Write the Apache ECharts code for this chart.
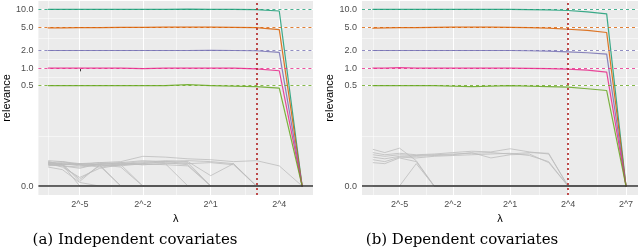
<!DOCTYPE html>
<html><head><meta charset="utf-8">
<script src="https://cdn.jsdelivr.net/npm/echarts@6/dist/echarts.min.js"></script>
<style>html,body{margin:0;padding:0;background:#fff}#c{width:640px;height:249px;pointer-events:none}</style>
</head><body><div id="c"></div>
<script>
// ---------------- data ----------------
const lambdasLeft  = [0.0078125,0.015625,0.03125,0.0625,0.125,0.25,0.5,1,2,4,8,16,32];
const lambdasRight = [0.0078125,0.015625,0.03125,0.0625,0.125,0.25,0.5,1,2,4,8,16,32,64,128];
const trueValues = [10, 5, 2, 1, 0.5];
const seriesColors = ['#1B9E77','#D95F02','#7570B3','#E7298A','#66A61E'];
const yTickValues = [0, 0.5, 1, 2, 5, 10];
const yTickLabels = ['0.0','0.5','1.0','2.0','5.0','10.0'];
const xTickLambdasLeft  = [0.03125, 0.25, 2, 16];
const xTickLabelsLeft   = ['2^-5','2^-2','2^1','2^4'];
const xTickLambdasRight = [0.03125, 0.25, 2, 16, 128];
const xTickLabelsRight  = ['2^-5','2^-2','2^1','2^4','2^7'];
const selectedLambdaLeft = 8;
const selectedLambdaRight = 16;

const leftTeal   = [10.0,10.0,10.0,10.0,10.0,10.0,10.0,10.1,10.0,10.0,9.9,9.4,0];
const leftOrange = [4.85,4.85,4.9,4.9,4.95,4.95,5.0,5.0,5.0,4.95,4.9,4.55,0];
const leftPurple = [2.0,2.0,2.0,2.0,2.0,2.0,2.0,2.0,2.02,2.0,1.98,1.86,0];
const leftPink   = [1.0,1.0,1.0,1.0,1.0,0.98,1.0,1.0,1.0,1.0,0.97,0.9,0];
const leftGreen  = [0.5,0.5,0.5,0.5,0.5,0.5,0.5,0.52,0.5,0.49,0.48,0.45,0];
const rightTeal   = [10,10,10,10,10,10,10,10,10,9.9,9.8,9.6,9.1,8.4,0];
const rightOrange = [4.8,4.85,4.9,4.9,4.95,5,5,5,4.95,4.9,4.8,4.6,4.4,4.05,0];
const rightPurple = [2,2,2,2,2,2,2,2,2,1.98,1.95,1.9,1.83,1.73,0];
const rightPink   = [1,1,1.02,1,1,1,1,1,1,0.99,0.98,0.96,0.92,0.85,0];
const rightGreen  = [0.5,0.5,0.5,0.5,0.5,0.49,0.48,0.49,0.5,0.49,0.48,0.47,0.44,0.41,0];

const greyLeft = [
 [0.014,0.015,0.013,0.015,0.016,0.022,0.021,0.019,0.018,0.016,0.017,0.012,0],
 [0.017,0.016,0.014,0.013,0.015,0.017,0.016,0.017,0.016,0.014,0,0,0],
 [0.013,0.014,0.012,0.014,0.013,0.015,0.017,0.016,0.005,0.014,0,0,0],
 [0.016,0.013,0.014,0.015,0.014,0.016,0.015,0.013,0,0,0,0,0],
 [0.015,0.014,0.013,0.012,0.014,0.013,0.014,0,0,0,0,0,0],
 [0.015,0.013,0.014,0.013,0.011,0,0,0,0,0,0,0,0],
 [0.013,0.012,0.011,0.013,0,0,0,0,0,0,0,0,0],
 [0.012,0.014,0.002,0.013,0.012,0.014,0.013,0.012,0,0,0,0,0],
 [0.014,0.011,0.004,0.010,0.013,0,0,0,0,0,0,0,0],
 [0.016,0.013,0,0,0,0,0,0,0,0,0,0,0],
 [0.011,0.009,0.0015,0,0,0,0,0,0,0,0,0,0],
 [0.013,0.012,0.010,0.014,0.015,0.013,0.014,0.015,0,0,0,0,0],
 [0.015,0.016,0.013,0.011,0.013,0.014,0.016,0.014,0.015,0.013,0,0,0],
 [0.014,0.013,0.003,0.012,0,0,0,0,0,0,0,0,0]
];
const greyRight = [
 [0.032,0.027,0.034,0.017,0,0,0,0,0,0,0,0,0,0,0],
 [0,0,0,0.014,0,0,0,0,0,0,0,0,0,0,0],
 [0.027,0.024,0.026,0.024,0.025,0.027,0.029,0.028,0.033,0.028,0.025,0,0,0,0],
 [0.024,0.022,0.024,0.023,0.024,0.025,0.026,0.027,0.025,0.027,0.026,0,0,0,0],
 [0.021,0.019,0.022,0.022,0.023,0.024,0.027,0.020,0.024,0.025,0.015,0,0,0,0],
 [0.018,0.016,0.021,0.020,0.022,0.023,0.024,0.025,0.026,0.023,0.016,0,0,0,0],
 [0.015,0.014,0.020,0.016,0,0,0,0,0,0,0,0,0,0,0]
];

const CX = 0.0068, CY = 0.01;
const U = l => Math.log2(l + CX);
const T = v => Math.log2(v + CY);

const SANS = '"Liberation Sans", Arial, sans-serif';
const grids = [
  {left:37, top:1, width:276, height:194, xmin:-6.525, xmax:5.475},
  {left:362, top:1, width:276, height:194, xmin:-6.657, xmax:7.621}
];
const YMIN = -7.15, YMAX = 3.80;

function nearestLabel(v, vals, labels){
  let bi = 0, bd = Infinity;
  vals.forEach((x,i)=>{ const d = Math.abs(x - v); if (d < bd){bd=d; bi=i;} });
  return labels[bi];
}

const option = {
  animation:false,
  backgroundColor:'#ffffff',
  tooltip:{show:false},
  grid: grids.map(g=>({left:g.left, top:g.top, width:g.width, height:g.height,
        show:true, backgroundColor:'#EBEBEB', borderWidth:0, containLabel:false})),
  xAxis: [], yAxis: [], series: [],
  graphic: [
    {type:'text', x:135, y:240, silent:true, style:{text:'(a) Independent covariates', align:'center', verticalAlign:'middle', fontSize:15, fontFamily:'"DejaVu Serif", serif', fill:'#000'}},
    {type:'text', x:462, y:240, silent:true, style:{text:'(b) Dependent covariates', align:'center', verticalAlign:'middle', fontSize:15, fontFamily:'"DejaVu Serif", serif', fill:'#000'}}
  ]
};

const panels = [
  {lambdas:lambdasLeft, colored:[leftTeal,leftOrange,leftPurple,leftPink,leftGreen], greys:greyLeft,
   sel:selectedLambdaLeft, xt:xTickLambdasLeft, xl:xTickLabelsLeft},
  {lambdas:lambdasRight, colored:[rightTeal,rightOrange,rightPurple,rightPink,rightGreen], greys:greyRight,
   sel:selectedLambdaRight, xt:xTickLambdasRight, xl:xTickLabelsRight}
];

function ml(z, data){
  return {symbol:['none','none'], silent:true, animation:false, label:{show:false}, emphasis:{disabled:true}, z:z, data:data};
}

panels.forEach((p, i) => {
  const g = grids[i];
  const xtU = p.xt.map(U);
  const ytT = yTickValues.map(T);
  option.xAxis.push({
    gridIndex:i, type:'value', min:g.xmin, max:g.xmax,
    axisLine:{show:false}, axisPointer:{show:false},
    axisTick:{show:true, length:3, lineStyle:{color:'#333', width:1}, customValues:xtU},
    axisLabel:{customValues:xtU, formatter:v=>nearestLabel(v, xtU, p.xl), color:'#4D4D4D', fontSize:9, margin:5, fontFamily:SANS},
    splitLine:{show:false},
    name:'λ', nameLocation:'middle', nameGap:15, nameTextStyle:{color:'#000', fontSize:11, fontFamily:SANS}
  });
  option.yAxis.push({
    gridIndex:i, type:'value', min:YMIN, max:YMAX,
    axisLine:{show:false}, axisPointer:{show:false},
    axisTick:{show:true, length:3, lineStyle:{color:'#333', width:1}, customValues:ytT},
    axisLabel:{customValues:ytT, formatter:v=>nearestLabel(v, ytT, yTickLabels), color:'#4D4D4D', fontSize:9, margin:5, fontFamily:SANS},
    splitLine:{show:false},
    name:'relevance', nameLocation:'middle', nameRotate:90, nameGap:25, nameTextStyle:{color:'#000', fontSize:11, fontFamily:SANS}
  });

  const gl = [];
  ytT.forEach(t=>gl.push({yAxis:t, lineStyle:{color:'#fff', width:1.1, type:'solid'}}));
  for (let k=0;k<ytT.length-1;k++) gl.push({yAxis:(ytT[k]+ytT[k+1])/2, lineStyle:{color:'#fff', width:0.5, type:'solid'}});
  xtU.forEach(u=>gl.push({xAxis:u, lineStyle:{color:'#fff', width:1.1, type:'solid'}}));
  const step = xtU[1]-xtU[0];
  const minors = [xtU[0]-step/2];
  for (let k=0;k<xtU.length-1;k++) minors.push((xtU[k]+xtU[k+1])/2);
  minors.push(xtU[xtU.length-1] + (xtU[xtU.length-1]-xtU[xtU.length-2])/2);
  minors.filter(u=>u>g.xmin+0.05 && u<g.xmax-0.05).forEach(u=>gl.push({xAxis:u, lineStyle:{color:'#fff', width:0.5, type:'solid'}}));
  option.series.push({type:'line', xAxisIndex:i, yAxisIndex:i, data:[], z:1, silent:true, markLine:ml(1, gl)});

  p.greys.forEach(arr=>{
    option.series.push({type:'line', xAxisIndex:i, yAxisIndex:i, z:2, silent:true, symbol:'none', showSymbol:false,
      emphasis:{disabled:true}, lineStyle:{color:'#BDBDBD', width:0.8, join:'round'},
      data:p.lambdas.map((l,j)=>[U(l), T(arr[j])])});
  });
  p.colored.forEach((arr,c)=>{
    option.series.push({type:'line', xAxisIndex:i, yAxisIndex:i, z:3, silent:true, symbol:'none', showSymbol:false,
      clip:false, emphasis:{disabled:true}, labelLine:{show:false}, label:{show:false},
      lineStyle:{color:seriesColors[c], width:1.2, opacity:0.85, join:'round', cap:'round'},
      data:p.lambdas.map((l,j)=>[U(l), T(arr[j])])});
  });
  option.series.push({type:'line', xAxisIndex:i, yAxisIndex:i, data:[], z:4, silent:true,
    markLine:ml(4, trueValues.map((v,c)=>({yAxis:T(v), lineStyle:{color:seriesColors[c], width:1, type:[3,3], opacity:0.8}})))});
  option.series.push({type:'line', xAxisIndex:i, yAxisIndex:i, data:[], z:5, silent:true,
    markLine:ml(5, [{xAxis:U(p.sel), lineStyle:{color:'#B22222', width:1.6, type:[2,3]}}])});
  option.series.push({type:'line', xAxisIndex:i, yAxisIndex:i, data:[], z:6, silent:true,
    markLine:ml(6, [{yAxis:T(0), lineStyle:{color:'#333', width:1.5, type:'solid'}}])});
});

const chart = echarts.init(document.getElementById('c'), null, {renderer:'canvas'});
chart.setOption(option);
</script>
</body></html>
